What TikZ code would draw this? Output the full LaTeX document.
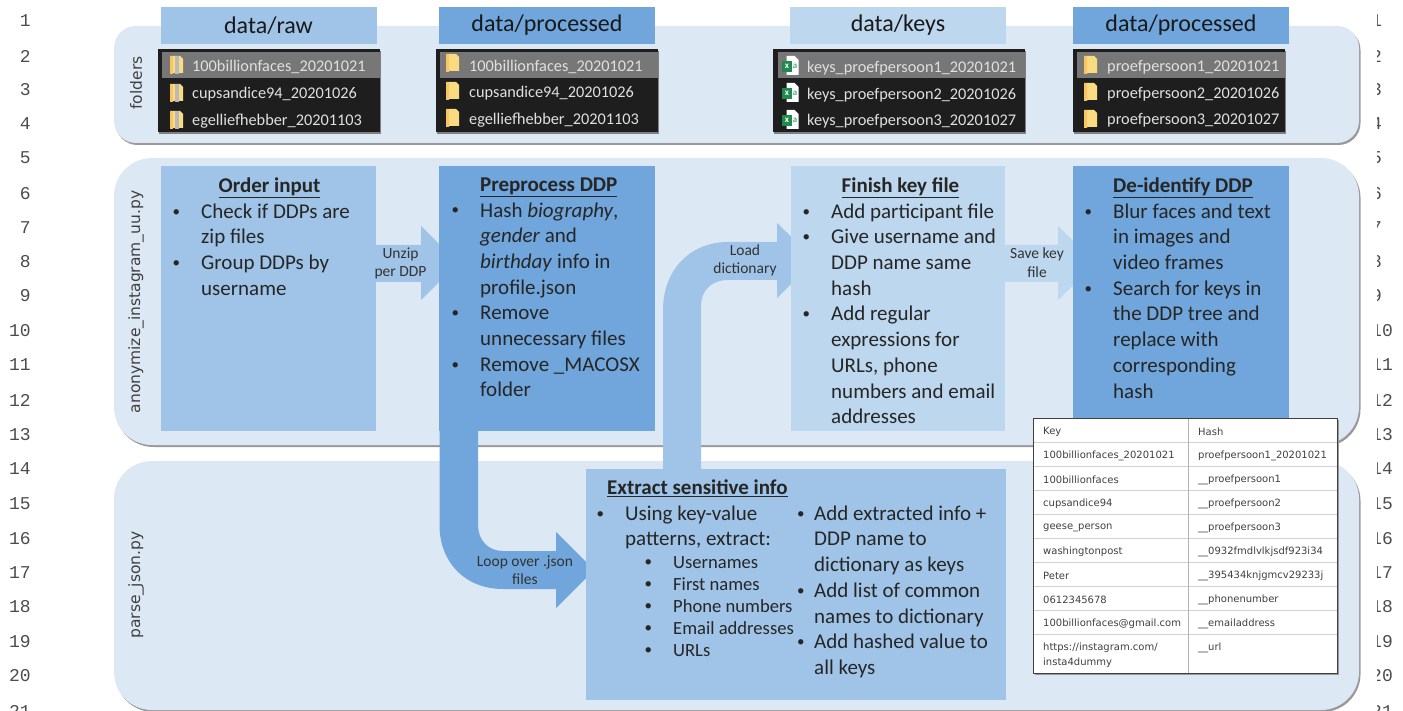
\documentclass[tikz,border=0pt]{standalone}
\usepackage{fontspec}
\setmainfont{Carlito}
\newfontfamily\tablefont{DejaVu Sans}
\newfontfamily\numfont{Liberation Mono}
\newfontfamily\sidefont{DejaVu Sans}
\usetikzlibrary{positioning}
\definecolor{panelblue}{HTML}{DDE8F5}
\definecolor{rawblue}{HTML}{9FC4E7}
\definecolor{procblue}{HTML}{70A6DB}
\definecolor{keysblue}{HTML}{BDD7EE}
\definecolor{darkrow}{HTML}{1E1E1E}
\definecolor{hirow}{HTML}{777777}
\definecolor{foldyellow}{HTML}{F9DC82}
\definecolor{xlgreen}{HTML}{1E8A4C}
\tikzset{
  panel/.style={fill=panelblue, draw=none, rounded corners=#1},
  panelshadow/.style={fill=gray!80, draw=none, rounded corners=#1},
  head/.style={minimum width=216pt, minimum height=37pt, inner sep=0pt, text=black!90, font=\fontsize{24}{28}\selectfont},
  listbg/.style={fill=darkrow, draw=none},
  rowtext/.style={text=white!88!black, anchor=west, inner sep=0pt, yshift=-1.5pt, font=\fontsize{16.3}{20}\selectfont},
  block/.style={anchor=north west, inner sep=0pt, text=black!85},
  sidelabel/.style={rotate=90, inner sep=0pt, text=black!75, font=\sidefont\fontsize{15.5}{16}\selectfont},
  arrowtext/.style={align=center, inner sep=0pt, text=black!80, font=\fontsize{15.5}{18.5}\selectfont},
  cell/.style={anchor=west, inner sep=0pt, yshift=-1.5pt, text=black!75, font=\tablefont\fontsize{10}{14}\selectfont},
  linenr/.style={inner sep=0pt, text=black!70, font=\numfont\fontsize{18}{20}\selectfont},
}
\newcommand{\ttl}[1]{\underline{\textbf{#1}}}
\newcommand{\itm}[1][27.5pt]{\par\noindent\hangindent=#1\hangafter=1\makebox[#1][l]{\hspace*{-1pt}\raisebox{.1em}{\fontsize{15}{15}\selectfont\textbullet}}}
\newcommand{\blocktxt}[2]{\begin{minipage}{#1}\raggedright\fontsize{21}{25.7}\selectfont #2\end{minipage}}
\newcommand{\foldicon}[1]{%
  \fill[foldyellow] (#1)++(0,-9) -- ++(10,0) -- ++(3,3) -- ++(0,14) -- ++(-9,0) -- ++(-4,1) -- cycle;
  \fill[foldyellow!75!orange] (#1)++(0,-9) rectangle ++(2.5,18);}
\newcommand{\zipicon}[1]{%
  \foldicon{#1}
  \fill[gray!55] (#1)++(5,-9) rectangle ++(3.5,18.5);}
\newcommand{\xlicon}[1]{%
  \fill[white] (#1)++(4.5,-10) -- ++(8,0) -- ++(4,4) -- ++(0,15) -- ++(-12,0) -- cycle;
  \fill[xlgreen] (#1)++(0,-5) rectangle ++(10,11);
  \node[inner sep=0pt, text=white, font=\bfseries\fontsize{9}{9}\selectfont] at ([xshift=5pt,yshift=-0.5pt]#1) {x};
  \node[inner sep=0pt, text=xlgreen, font=\fontsize{9}{9}\selectfont] at ([xshift=13pt,yshift=-0.5pt]#1) {a};}

\begin{document}
\begin{tikzpicture}[x=1pt,y=-1pt]
\useasboundingbox (0,0) rectangle (1403,711);
% bands
\fill[panelshadow=22pt] (115.5,28) rectangle (1360.5,145);
\fill[panel=22pt] (114,26) rectangle (1359,143);
\fill[panelshadow=38pt] (115.5,160) rectangle (1360.5,447);
\fill[panel=38pt] (114,158) rectangle (1359,445);
\fill[panelshadow=38pt] (115.5,463) rectangle (1360.5,712);
\fill[panel=38pt] (114,461) rectangle (1359,710);
\node[sidelabel] (lblfolders) at (136,83) {folders};
\node[sidelabel] (lblanon) at (136,302) {anonymize\_instagram\_uu.py};
\node[sidelabel] (lblparse) at (136,585) {parse\_json.py};
% headers
\node[head, fill=rawblue] (hraw) at (268.5,25.5) {\raisebox{-2.5pt}{data/raw}};
\node[head, fill=procblue] (hproc) at (547,25.5) {\raisebox{-2.5pt}{data/processed}};
\node[head, fill=keysblue] (hkeys) at (898,25.5) {\raisebox{-2.5pt}{data/keys}};
\node[head, fill=procblue] (hproc2) at (1181,25.5) {\raisebox{-2.5pt}{data/processed}};
% folder lists
\fill[black!50] (159,51) rectangle (381,134);
\fill[listbg] (158,49) rectangle (380,132);
\fill[hirow] (162,52) rectangle (380,78);
\zipicon{170,65} \zipicon{170,93} \zipicon{170,120}
\node[rowtext] (r1a) at (192,65) {100billionfaces\_20201021};
\node[rowtext] (r1b) at (192,93) {cupsandice94\_20201026};
\node[rowtext] (r1c) at (192,120) {egelliefhebber\_20201103};
\fill[black!50] (437,51) rectangle (659,134);
\fill[listbg] (436,49) rectangle (658,132);
\fill[hirow] (440,52) rectangle (658,78);
\foldicon{446,63} \foldicon{446,91} \foldicon{446,118}
\node[rowtext] (r2a) at (469,65) {100billionfaces\_20201021};
\node[rowtext] (r2b) at (469,92) {cupsandice94\_20201026};
\node[rowtext] (r2c) at (469,119) {egelliefhebber\_20201103};
\fill[black!50] (774,51) rectangle (1026,134);
\fill[listbg] (773,49) rectangle (1025,132);
\fill[hirow] (778,52) rectangle (1025,78);
\xlicon{782,66} \xlicon{782,93} \xlicon{782,120}
\node[rowtext] (r3a) at (807,67) {keys\_proefpersoon1\_20201021};
\node[rowtext] (r3b) at (807,94) {keys\_proefpersoon2\_20201026};
\node[rowtext] (r3c) at (807,120) {keys\_proefpersoon3\_20201027};
\fill[black!50] (1074,51) rectangle (1286,134);
\fill[listbg] (1073,49) rectangle (1285,132);
\fill[hirow] (1077,52) rectangle (1285,78);
\foldicon{1084,65} \foldicon{1084,92} \foldicon{1084,119}
\node[rowtext] (r4a) at (1107,66) {proefpersoon1\_20201021};
\node[rowtext] (r4b) at (1107,93) {proefpersoon2\_20201026};
\node[rowtext] (r4c) at (1107,119) {proefpersoon3\_20201027};
% block arrows
\fill[rawblue] (376,245) -- (421,245) -- (421,226) -- (458,263) -- (421,300) -- (421,282) -- (376,282) -- cycle;
\fill[keysblue] (1005,245) -- (1058,245) -- (1058,226) -- (1096,263) -- (1058,300) -- (1058,282) -- (1005,282) -- cycle;
\fill[rawblue] (663,470) -- (663,310) .. controls (663,270) and (690,242) .. (728,242) -- (777,242)
  -- (777,223) -- (815,260) -- (777,298) -- (777,280) -- (728,280) .. controls (712,280) and (701,290) .. (701,306) -- (701,470) -- cycle;
\fill[procblue] (439.5,431) -- (439.5,525) .. controls (439.5,562) and (465,589) .. (503,589) -- (556,589)
  -- (556,608) -- (594,570) -- (556,532) -- (556,551) -- (503,551) .. controls (488,551) and (478,540) .. (478,525) -- (478,431) -- cycle;
% boxes
\fill[rawblue] (161,166) rectangle (376,431);
\fill[procblue] (439,166) rectangle (655,431);
\fill[keysblue] (791,166) rectangle (1005,431);
\fill[procblue] (1073,166) rectangle (1289,431);
\fill[rawblue] (585.5,469) rectangle (1005.5,700);
\node[arrowtext] (lblunzip) at (400.5,263.5) {Unzip\\per DDP};
\node[arrowtext] (lblsave) at (1037,262.5) {Save key\\file};
\node[arrowtext] (lblload) at (745,260.5) {Load\\dictionary};
\node[arrowtext] (lblloop) at (525,570) {Loop over .json\\files};
% box texts
\node[block] (order) at (173.5,177.5) {\blocktxt{200pt}{\hspace*{45pt}\ttl{Order input}
  \itm Check if DDPs are\newline zip files
  \itm Group DDPs by\newline username}};
\node[block] (prep) at (452.5,177.5) {\blocktxt{200pt}{\hspace*{27.5pt}\ttl{Preprocess DDP}
  \itm Hash \textit{biography},\newline \textit{gender} and\newline \textit{birthday} info in\newline profile.json
  \itm Remove\newline unnecessary files
  \itm Remove \_MACOSX\newline folder}};
\node[block] (finish) at (803.5,177.5) {\blocktxt{200pt}{\hspace*{38pt}\ttl{Finish key file}
  \itm Add participant file
  \itm Give username and\newline DDP name same\newline hash
  \itm Add regular\newline expressions for\newline URLs, phone\newline numbers and email\newline addresses}};
\node[block] (deid) at (1085.5,177.5) {\blocktxt{200pt}{\hspace*{27.5pt}\ttl{De-identify DDP}
  \itm Blur faces and text\newline in images and\newline video frames
  \itm Search for keys in\newline the DDP tree and\newline replace with\newline corresponding\newline hash}};
\node[block] (extract) at (607,479.5) {\blocktxt{200pt}{\ttl{Extract sensitive info}}};
\node[block] (exleft) at (597.5,505.5) {\blocktxt{200pt}{%
  \itm Using key-value\newline patterns, extract:}};
\node[block] (exsub) at (645.5,556.5) {\begin{minipage}{160pt}\raggedright\fontsize{18.6}{22}\selectfont
  \itm Usernames
  \itm First names
  \itm Phone numbers
  \itm Email addresses
  \itm URLs\end{minipage}};
\node[block] (exright) at (798,505.5) {\blocktxt{205pt}{%
  \itm[16pt]Add extracted info +\newline DDP name to\newline dictionary as keys
  \itm[16pt]Add list of common\newline names to dictionary
  \itm[16pt]Add hashed value to\newline all keys}};
% key table
\fill[black!40] (1035,420) rectangle (1339,675);
\fill[white] (1033,418) rectangle (1337,673);
\foreach \ya in {442,466,490,514,538,562,586,610,634}
  \draw[black!18, line width=1pt] (1033,\ya) -- (1337,\ya);
\draw[black!30, line width=0.8pt] (1188,418) -- (1188,673);
\draw[black!75, line width=1pt] (1033,418) rectangle (1337,673);
\foreach \ya/\ka/\ha in {430/Key/Hash,
  454/100billionfaces\_20201021/proefpersoon1\_20201021,
  478/100billionfaces/\_\_proefpersoon1,
  502/cupsandice94/\_\_proefpersoon2,
  526/geese\_person/\_\_proefpersoon3,
  550/washingtonpost/\_\_0932fmdlvlkjsdf923i34,
  574/Peter/\_\_395434knjgmcv29233j,
  598/0612345678/\_\_phonenumber,
  622/100billionfaces@gmail.com/\_\_emailaddress,
  646/{https://instagram.com/}/\_\_url}{
  \node[cell] at (1043,\ya) {\ka};
  \node[cell] at (1198,\ya) {\ha};
}
\node[cell] (lastkey) at (1043,661) {insta4dummy};
% line numbers
\foreach \yb [count=\nr] in {21,56,90,124,158,194,228,262,296,331,365,400,435,469,504,539,573,607,642,676,711}
  \node[linenr, anchor=east] at (31,\yb) {\nr};
\begin{scope}
\clip (1377.5,0) rectangle (1403,711);
\foreach \yb [count=\nr] in {21,56,90,124,158,194,228,262,296,331,365,400,435,469,504,539,573,607,642,676,711}
  \node[linenr, anchor=west] at (1371,\yb) {\nr};
\end{scope}
\end{tikzpicture}
\end{document}
